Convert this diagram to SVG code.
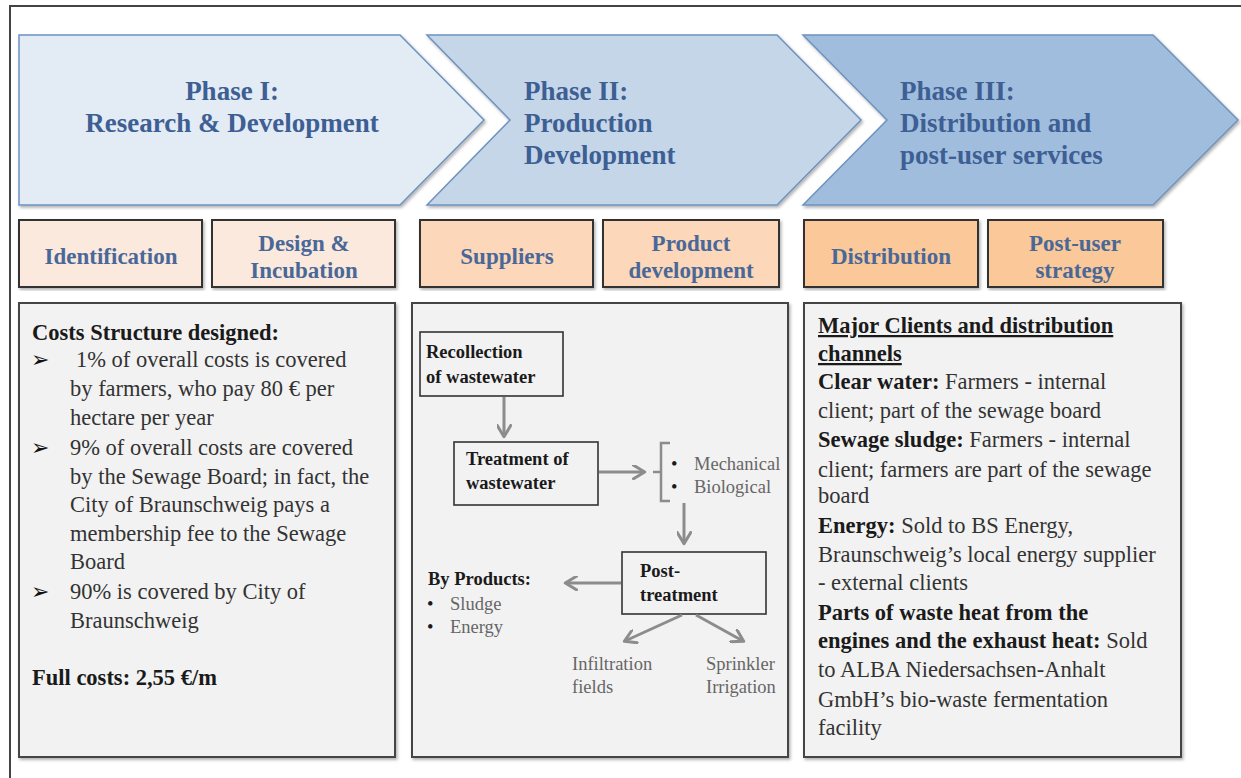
<svg xmlns="http://www.w3.org/2000/svg" width="1241" height="778" viewBox="0 0 1241 778">
<defs>
<filter id="sh" x="-5%" y="-5%" width="110%" height="110%">
<feDropShadow dx="1.5" dy="2" stdDeviation="1.5" flood-color="#000" flood-opacity="0.3"/>
</filter>
<marker id="ah" viewBox="0 0 10 10" refX="8" refY="5" markerWidth="5" markerHeight="5" orient="auto" markerUnits="strokeWidth">
<path d="M1,0.5 L8.5,5 L1,9.5" fill="none" stroke="#8c8c8c" stroke-width="2" stroke-linecap="round" stroke-linejoin="round"/>
</marker>
<style>
.chev{stroke:#6e92be;stroke-width:1.5;}
.ph{font-family:"Liberation Serif",serif;font-weight:bold;font-size:27px;fill:#3d5f94;}
.sb{stroke:#333;stroke-width:2;}
.st{font-family:"Liberation Serif",serif;font-weight:bold;font-size:23px;fill:#4a6897;text-anchor:middle;}
.big{fill:#f2f2f2;stroke:#444;stroke-width:2;}
.tx{font-family:"Liberation Serif",serif;font-size:22.5px;fill:#333;}
.b{font-weight:bold;fill:#1a1a1a;}
.arw{font-family:"DejaVu Sans",sans-serif;font-size:22px;fill:#111;}
.fb{fill:none;stroke:#333;stroke-width:1.6;}
.ft{font-family:"Liberation Serif",serif;font-size:18.5px;fill:#1a1a1a;font-weight:bold;}
.gt{font-family:"Liberation Serif",serif;font-size:18.5px;fill:#666;}
.dot{font-family:"Liberation Serif",serif;font-size:18.5px;fill:#1a1a1a;}
.con{fill:none;stroke:#8c8c8c;stroke-width:3;marker-end:url(#ah);}
</style>
</defs>
<rect width="1241" height="778" fill="#fff"/>
<path d="M10,778 L10,6 L1241,6" fill="none" stroke="#444" stroke-width="2"/>

<g id="phase1">
<polygon class="chev" fill="#e3ebf4" points="19,35 400,35 484,120 400,205 19,205" filter="url(#sh)"/>
<text class="ph" x="232" y="100" text-anchor="middle">Phase I:</text>
<text class="ph" x="232" y="132" text-anchor="middle">Research &amp; Development</text>
</g>
<g id="phase2">
<polygon class="chev" fill="#c5d6e8" points="427,35 777,35 861,120 777,205 427,205 510,120" filter="url(#sh)"/>
<text class="ph" x="524" y="100">Phase II:</text>
<text class="ph" x="524" y="132">Production</text>
<text class="ph" x="524" y="164">Development</text>
</g>
<g id="phase3">
<polygon class="chev" fill="#a1bddd" points="803,35 1153,35 1238,120 1153,205 803,205 887,120" filter="url(#sh)"/>
<text class="ph" x="900" y="100">Phase III:</text>
<text class="ph" x="900" y="132">Distribution and</text>
<text class="ph" x="900" y="164">post-user services</text>
</g>

<g id="identification">
<rect class="sb" x="19" y="220" width="183" height="67" fill="#fbe9dd" filter="url(#sh)"/>
<text class="st" x="111" y="264">Identification</text>
</g>
<g id="design">
<rect class="sb" x="212" y="220" width="183" height="67" fill="#fbe9dd" filter="url(#sh)"/>
<text class="st" x="304" y="251">Design &amp;</text>
<text class="st" x="304" y="278">Incubation</text>
</g>
<g id="suppliers">
<rect class="sb" x="420" y="220" width="173" height="67" fill="#fcd7b9" filter="url(#sh)"/>
<text class="st" x="507" y="264">Suppliers</text>
</g>
<g id="productdev">
<rect class="sb" x="603" y="220" width="176" height="67" fill="#fcd7b9" filter="url(#sh)"/>
<text class="st" x="691" y="251">Product</text>
<text class="st" x="691" y="278">development</text>
</g>
<g id="distribution">
<rect class="sb" x="804" y="220" width="174" height="67" fill="#fbc899" filter="url(#sh)"/>
<text class="st" x="891" y="264">Distribution</text>
</g>
<g id="postuser">
<rect class="sb" x="988" y="220" width="175" height="67" fill="#fbc899" filter="url(#sh)"/>
<text class="st" x="1075" y="251">Post-user</text>
<text class="st" x="1075" y="278">strategy</text>
</g>

<g id="costs">
<rect class="big" x="19" y="303" width="376" height="454" filter="url(#sh)"/>
<text class="tx b" x="32" y="340">Costs Structure designed:</text>
<text class="arw" x="31" y="367">➢</text>
<text class="tx" x="76" y="367">1% of overall costs is covered</text>
<text class="tx" x="70" y="396">by farmers, who pay 80 € per</text>
<text class="tx" x="70" y="425">hectare per year</text>
<text class="arw" x="31" y="455">➢</text>
<text class="tx" x="70" y="455">9% of overall costs are covered</text>
<text class="tx" x="70" y="484">by the Sewage Board; in fact, the</text>
<text class="tx" x="70" y="512">City of Braunschweig pays a</text>
<text class="tx" x="70" y="541">membership fee to the Sewage</text>
<text class="tx" x="70" y="569">Board</text>
<text class="arw" x="31" y="599">➢</text>
<text class="tx" x="70" y="599">90% is covered by City of</text>
<text class="tx" x="70" y="628">Braunschweig</text>
<text class="tx b" x="32" y="685">Full costs: 2,55 €/m</text>
</g>

<g id="production">
<rect class="big" x="412" y="303" width="376" height="454" filter="url(#sh)"/>
</g>
<g id="recollection">
<rect class="fb" x="420" y="332" width="143" height="64"/>
<text class="ft" x="426" y="358">Recollection</text>
<text class="ft" x="426" y="383">of wastewater</text>
</g>
<g id="treatment">
<rect class="fb" x="454" y="442" width="144" height="63"/>
<text class="ft" x="466" y="465">Treatment of</text>
<text class="ft" x="466" y="489">wastewater</text>
</g>
<g id="methods">
<path d="M670,443 L661,443 L661,501 L670,501 M661,472 L653,472" fill="none" stroke="#8c8c8c" stroke-width="2.5"/>
<text class="dot" x="671" y="470">•</text>
<text class="gt" x="694" y="470">Mechanical</text>
<text class="dot" x="671" y="493">•</text>
<text class="gt" x="694" y="493">Biological</text>
</g>
<g id="posttreatment">
<rect class="fb" x="622" y="552" width="144" height="62"/>
<text class="ft" x="640" y="577">Post-</text>
<text class="ft" x="640" y="601">treatment</text>
</g>
<g id="byproducts">
<text class="ft" x="428" y="585">By Products:</text>
<text class="dot" x="427" y="610">•</text>
<text class="gt" x="450" y="610">Sludge</text>
<text class="dot" x="427" y="633">•</text>
<text class="gt" x="450" y="633">Energy</text>
</g>
<g id="infiltration">
<text class="gt" x="572" y="670">Infiltration</text>
<text class="gt" x="572" y="693">fields</text>
</g>
<g id="sprinkler">
<text class="gt" x="706" y="670">Sprinkler</text>
<text class="gt" x="706" y="693">Irrigation</text>
</g>

<g id="connectors">
<line class="con" x1="504" y1="397" x2="504" y2="436"/>
<line class="con" x1="599" y1="472" x2="644" y2="472"/>
<line class="con" x1="684" y1="503" x2="684" y2="543"/>
<line class="con" x1="621" y1="583" x2="566" y2="583"/>
<line class="con" x1="682" y1="615" x2="625" y2="641"/>
<line class="con" x1="696" y1="615" x2="743" y2="641"/>
</g>

<g id="clients">
<rect class="big" x="804" y="303" width="377" height="454" filter="url(#sh)"/>
<text class="tx b" x="818" y="333" text-decoration="underline">Major Clients and distribution</text>
<text class="tx b" x="818" y="361" text-decoration="underline">channels</text>
<text class="tx" x="818" y="389"><tspan class="b">Clear water:</tspan> Farmers - internal</text>
<text class="tx" x="818" y="418">client; part of the sewage board</text>
<text class="tx" x="818" y="447"><tspan class="b">Sewage sludge:</tspan> Farmers - internal</text>
<text class="tx" x="818" y="477">client; farmers are part of the sewage</text>
<text class="tx" x="818" y="503">board</text>
<text class="tx" x="818" y="533"><tspan class="b">Energy:</tspan> Sold to BS Energy,</text>
<text class="tx" x="818" y="562">Braunschweig’s local energy supplier</text>
<text class="tx" x="818" y="590">- external clients</text>
<text class="tx b" x="818" y="620">Parts of waste heat from the</text>
<text class="tx" x="818" y="648"><tspan class="b">engines and the exhaust heat:</tspan> Sold</text>
<text class="tx" x="818" y="677">to ALBA Niedersachsen-Anhalt</text>
<text class="tx" x="818" y="707">GmbH’s bio-waste fermentation</text>
<text class="tx" x="818" y="735">facility</text>
</g>
</svg>
